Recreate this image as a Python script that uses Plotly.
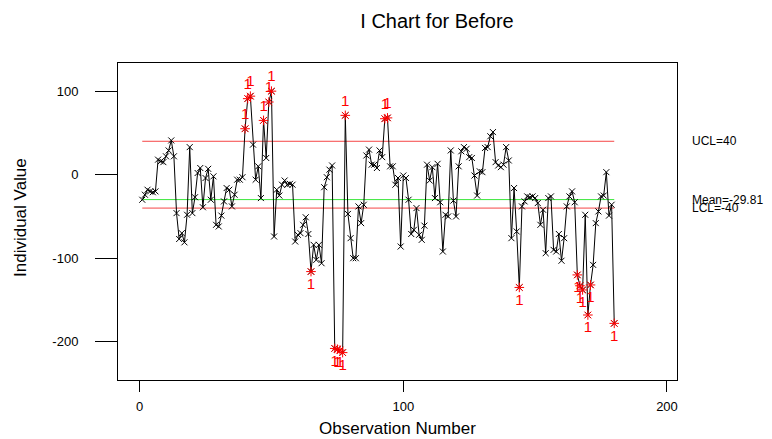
import plotly.graph_objects as go

# ---- data ----
values = [
    -30, -24, -18, -20, -21, -20, 18, 16, 15, 22, 29, 41, 22, -46, -77, -70, -81, -48, 33, -46,
    -27, 2, 8, -39, -4, 7, -30, -2, -60,
    -62, -49, -32, -16, -18, -38, -24, -6, -6, -3, 55, 91, 94, 36, -6, 10, -28, 65, 20, 87,
    100, -74, -18, -25, -12, -7, -12, -11, -12,
    -80, -72, -70, -60, -51, -71, -116, -84, -102, -84, -106, -15, -3, 6, 11, -208, -209, -210,
    -213, 71, -47, -76, -100, -100, -38, -58, -36, 23, 30, 12, 12, 8, 29,
    21, 67, 68, 10, 10, -12, -4, -86, -1, -4, -30, -71, -66, -40, -72, -78, -61, 12, -7, 9,
    -28, 13, -33, -92, -48, -50, 29, -31, -50, 10,
    28, 33, 31, 21, 20, -1, -25, 4, 3, 32, 33, 46, 51, 15, 11, 9, 12, 33, 17, -76, -16, -68,
    -135, -38, -32, -26, -27, -26, -28, -34, -60,
    -42, -94, -28, -26, -90, -92, -71, -103, -76, -38, -26, -20, -33, -120, -133, -138, -48,
    -168, -132, -108, -58, -44, -26, -25, 3, -49, -36, -178,
]
obs = list(range(1, len(values) + 1))

ucl = 40
center = -29.81
lcl = -40
test_upper = 53      # 3-sigma test limits used for flagging
test_lower = -112.6

x_ticks = [0, 100, 200]
y_ticks = [100, 0, -100, -200]
y_tick_labels = [str(v) for v in y_ticks]

# page body has an 8px margin; lay the figure out in page pixels minus that offset
OFF = 8
W, H = 772 - OFF, 439 - OFF
L, T = 118 - OFF, 63 - OFF
R = W - L - (677 - 118)
B = H - T - (380 - 63)
pw = W - L - R
ph = H - T - B


def px_x(px):
    return (px - OFF - L) / pw


def px_y(py):
    return (H - B - (py - OFF)) / ph


red = "rgb(245,70,70)"
green = "rgb(60,230,60)"
font = "Liberation Sans, Arial, sans-serif"

fig = go.Figure()

fig.add_trace(go.Scatter(x=[obs[0], obs[-1]], y=[ucl, ucl], mode="lines",
                         line=dict(color=red, width=1), hoverinfo="skip"))
fig.add_trace(go.Scatter(x=[obs[0], obs[-1]], y=[center, center], mode="lines",
                         line=dict(color=green, width=1), hoverinfo="skip"))
fig.add_trace(go.Scatter(x=[obs[0], obs[-1]], y=[lcl, lcl], mode="lines",
                         line=dict(color=red, width=1), hoverinfo="skip"))

fig.add_trace(go.Scatter(
    x=obs, y=values, mode="lines+markers",
    line=dict(color="black", width=1),
    marker=dict(symbol="x-thin", size=6, line=dict(color="black", width=1), color="black"),
))

up_x = [o for o, v in zip(obs, values) if v > test_upper]
up_y = [v for v in values if v > test_upper]
lo_x = [o for o, v in zip(obs, values) if v < test_lower]
lo_y = [v for v in values if v < test_lower]

fig.add_trace(go.Scatter(
    x=up_x, y=up_y, mode="markers+text", text=["1"] * len(up_x),
    textposition="top center", textfont=dict(color="red", size=15, family=font),
    marker=dict(symbol="asterisk-open", size=8, line=dict(color="red", width=1), color="red"),
))
fig.add_trace(go.Scatter(
    x=lo_x, y=lo_y, mode="markers+text", text=["1"] * len(lo_x),
    textposition="bottom center", textfont=dict(color="red", size=15, family=font),
    marker=dict(symbol="asterisk-open", size=8, line=dict(color="red", width=1), color="red"),
))

fig.update_layout(
    width=W, height=H,
    margin=dict(l=L, r=R, t=T, b=B, autoexpand=False),
    paper_bgcolor="white", plot_bgcolor="white",
    showlegend=False,
    font=dict(family=font, color="black", size=13),
    title=dict(text="I Chart for Before", x=(437 - OFF) / W, xanchor="center", xref="container",
               y=1 - (21 - OFF) / H, yanchor="middle", yref="container",
               font=dict(size=20, family=font, color="black")),
    xaxis=dict(range=[-8.2, 203.8], tickvals=x_ticks, ticks="outside", ticklen=11,
               tickcolor="black", showgrid=False, zeroline=False, showline=True,
               linecolor="black", linewidth=1, mirror=True, ticklabelstandoff=3,
               tickfont=dict(size=13)),
    yaxis=dict(range=[-245.8, 133.7], tickvals=y_ticks, ticktext=y_tick_labels,
               ticks="outside", ticklen=22,
               tickcolor="black", showgrid=False, zeroline=False, showline=True,
               linecolor="black", linewidth=1, mirror=True, ticklabelstandoff=14,
               tickfont=dict(size=13)),
    annotations=[
        dict(text="Observation Number", x=px_x(397.5), y=px_y(428), xref="paper",
             yref="paper", showarrow=False, font=dict(size=17), xanchor="center",
             yanchor="middle"),
        dict(text="Individual Value", x=px_x(20), y=px_y(218), xref="paper", yref="paper",
             showarrow=False, font=dict(size=17), textangle=-90,
             xanchor="center", yanchor="middle"),
        dict(text="UCL=40", x=px_x(690), y=ucl, xref="paper", yref="y", showarrow=False,
             xanchor="left", yanchor="middle", font=dict(size=12)),
        dict(text="Mean=-29.81", x=px_x(690), y=center, xref="paper", yref="y",
             showarrow=False, xanchor="left", yanchor="middle", font=dict(size=12)),
        dict(text="LCL=-40", x=px_x(690), y=lcl, xref="paper", yref="y", showarrow=False,
             xanchor="left", yanchor="middle", font=dict(size=12)),
    ],
)

fig.write_html("out.html")
